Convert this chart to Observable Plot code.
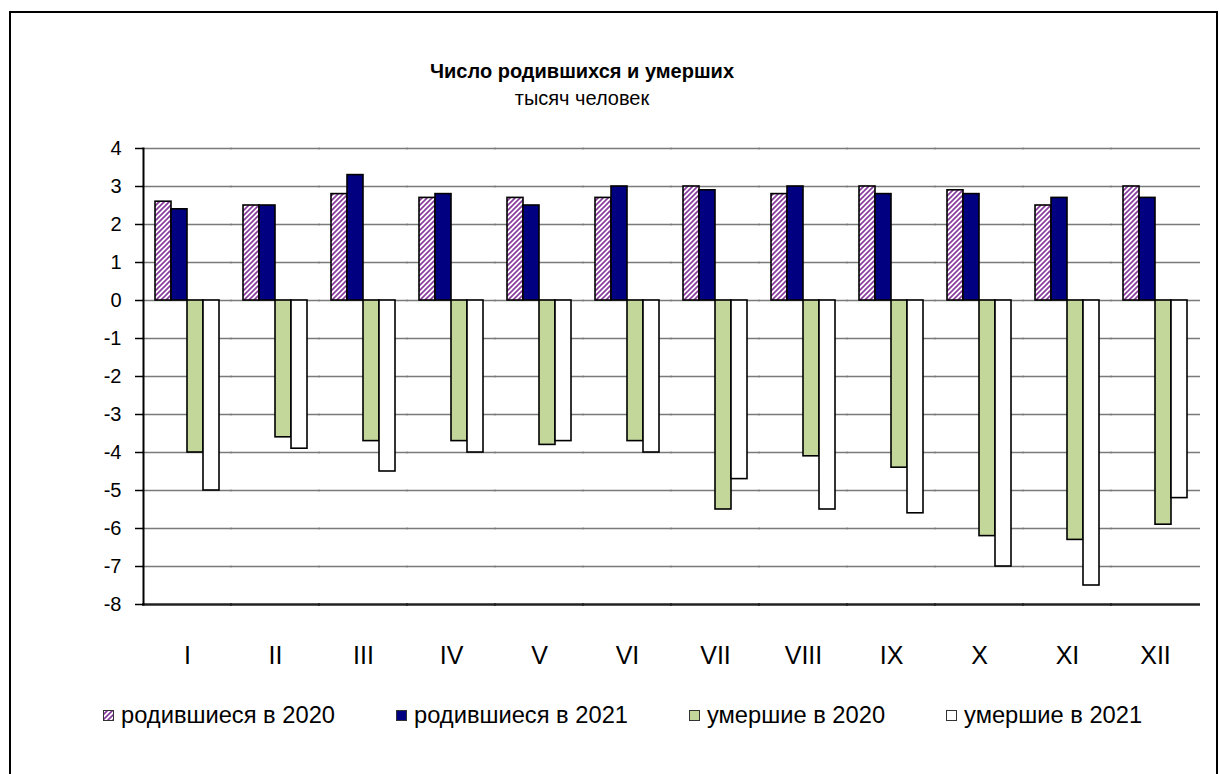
<!DOCTYPE html>
<html>
<head>
<meta charset="utf-8">
<script src="https://cdn.jsdelivr.net/npm/d3@7"></script>
<script src="https://cdn.jsdelivr.net/npm/@observablehq/plot@0.6"></script>
<style>
  html, body { margin: 0; padding: 0; background: #fff; }
  body { font-family: Arial, "Liberation Sans", sans-serif; }
  #wrap { position: relative; width: 1219px; height: 774px; overflow: hidden; }
  #border { position: absolute; left: 9px; top: 11px; width: 1209px; height: 800px; border: 2px solid #000; box-sizing: border-box; }
  #title { position: absolute; left: 0; top: 59px; width: 1164px; text-align: center; font-size: 20px; font-weight: bold; line-height: 24px; color: #000; }
  #subtitle { position: absolute; left: 0; top: 86px; width: 1164px; text-align: center; font-size: 20px; line-height: 24px; color: #000; }
  #chart { position: absolute; left: 0; top: 0; }
  #legend { position: absolute; left: 103px; top: 702px; display: flex; gap: 61px; align-items: center; font-size: 23.7px; line-height: 26px; color: #000; }
  .item { display: flex; align-items: center; gap: 7px; }
  .item svg { display: block; }
</style>
</head>
<body>
<div id="wrap">
  <div id="border"></div>
  <div id="title">Число родившихся и умерших</div>
  <div id="subtitle">тысяч человек</div>
  <div id="chart"></div>
  <div id="legend"></div>
</div>
<script>
const months = ["I", "II", "III", "IV", "V", "VI", "VII", "VIII", "IX", "X", "XI", "XII"];
const seriesNames = ["родившиеся в 2020", "родившиеся в 2021", "умершие в 2020", "умершие в 2021"];
const born2020 = [2.6, 2.5, 2.8, 2.7, 2.7, 2.7, 3.0, 2.8, 3.0, 2.9, 2.5, 3.0];
const born2021 = [2.4, 2.5, 3.3, 2.8, 2.5, 3.0, 2.9, 3.0, 2.8, 2.8, 2.7, 2.7];
const died2020 = [-4.0, -3.6, -3.7, -3.7, -3.8, -3.7, -5.5, -4.1, -4.4, -6.2, -6.3, -5.9];
const died2021 = [-5.0, -3.9, -4.5, -4.0, -3.7, -4.0, -4.7, -5.5, -5.6, -7.0, -7.5, -5.2];
const yTicks = [4, 3, 2, 1, 0, -1, -2, -3, -4, -5, -6, -7, -8];
const seriesColors = ["url(#hatch)", "#000080", "#c4d79b", "#ffffff"];

const seriesValues = [born2020, born2021, died2020, died2021];
const data = [];
months.forEach((m, i) => {
  seriesNames.forEach((s, k) => data.push({month: m, series: s, value: seriesValues[k][i]}));
});

const chart = Plot.plot({
  width: 1219,
  height: 680,
  marginLeft: 142,
  marginRight: 19,
  marginTop: 148,
  marginBottom: 76,
  style: {fontFamily: 'Arial, "Liberation Sans", sans-serif', background: "transparent", color: "#000"},
  fx: {domain: months, padding: 0, label: null},
  x: {domain: seriesNames, paddingInner: 0, paddingOuter: 0.74, axis: null},
  y: {domain: [-8, 4], axis: null},
  color: {domain: seriesNames, range: seriesColors},
  marks: [
    Plot.ruleY(yTicks.filter(d => d > -8), {stroke: "#7a7a7a", strokeWidth: 1.5, insetLeft: -1, insetRight: -1}),
    Plot.barY(data, {fx: "month", x: "series", y: "value", fill: "series", stroke: "#000", strokeWidth: 1.6}),
    Plot.ruleY([-8], {stroke: "#222", strokeWidth: 2.5, insetLeft: -1, insetRight: -1}),
    Plot.axisY({ticks: yTicks, tickFormat: d => String(d), tickSize: 8, tickPadding: 14, fontSize: 20, stroke: "#000", strokeWidth: 1.5, label: null, anchor: "left"}),
    Plot.frame({anchor: "left", facetAnchor: "left", stroke: "#000", strokeWidth: 2}),
    Plot.axisFx({anchor: "bottom", tickSize: 0, tickPadding: 42, fontSize: 25, label: null})
  ]
});

document.getElementById("chart").appendChild(chart);

const svg = d3.select(chart.tagName.toLowerCase() === "svg" ? chart : chart.querySelector("svg"));
const defs = svg.insert("defs", ":first-child");
const pat = defs.append("pattern").attr("id", "hatch").attr("patternUnits", "userSpaceOnUse")
  .attr("width", 5).attr("height", 5);
pat.append("rect").attr("width", 5).attr("height", 5).attr("fill", "#fff");
pat.append("path").attr("d", "M-1,6 L6,-1 M-1,1 L1,-1 M4,6 L6,4").attr("stroke", "#8a3c9e").attr("stroke-width", 1.7);

const legend = d3.select("#legend");
seriesNames.forEach((s, k) => {
  const item = legend.append("div").attr("class", "item");
  const sw = item.append("svg").attr("width", 11).attr("height", 11);
  sw.append("rect").attr("x", 0.5).attr("y", 0.5).attr("width", 10).attr("height", 10)
    .attr("fill", seriesColors[k]).attr("stroke", "#333").attr("stroke-width", 1);
  item.append("span").text(s);
});
</script>
</body>
</html>
